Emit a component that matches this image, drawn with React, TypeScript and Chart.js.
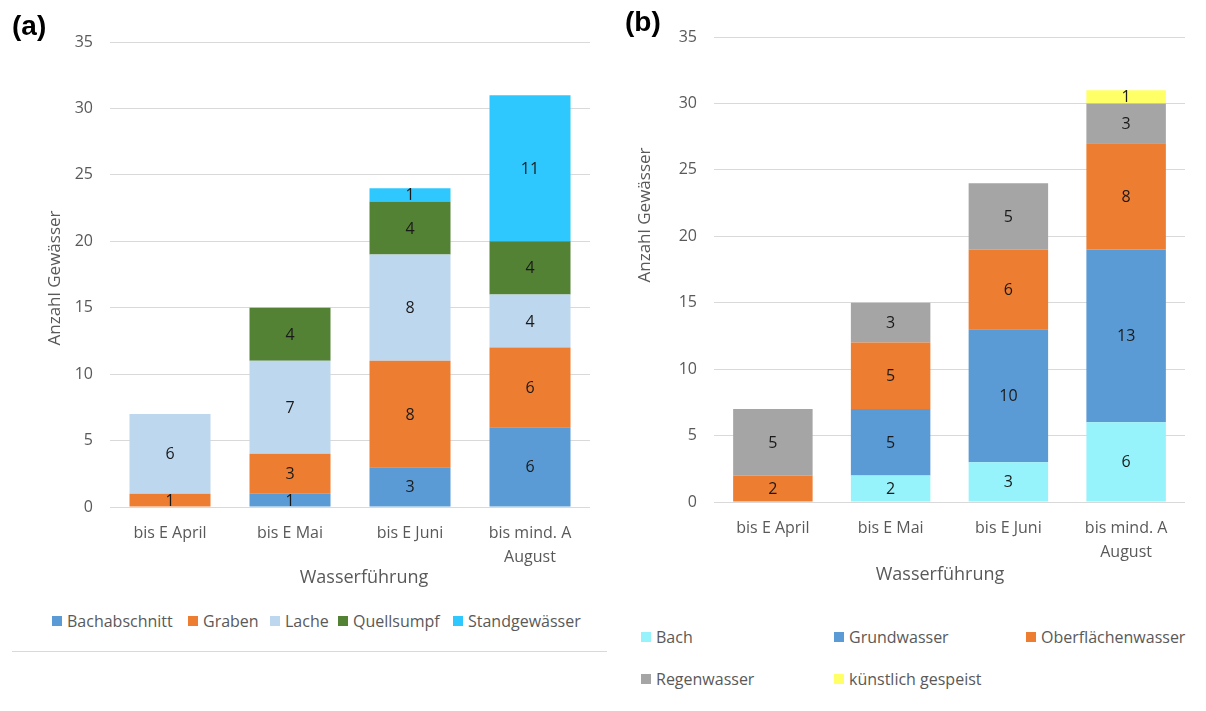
import React, { useEffect, useRef } from "react";
import { Chart, registerables } from "chart.js";

Chart.register(...registerables);

const FONT = "'Open Sans', 'DejaVu Sans', sans-serif";
const TEXT_GREY = "#595959";
const GRID_GREY = "#D9D9D9";

// Category labels (multi-line where the label wraps)
const categories: string[][] = [["bis E April"], ["bis E Mai"], ["bis E Juni"], ["bis mind. A", "August"]];

// y axis range and tick step
const yMax = 35;
const yStep = 5;

// (a) Gewässertyp
const bachabschnitt = [0, 1, 3, 6];
const graben = [1, 3, 8, 6];
const lache = [6, 7, 8, 4];
const quellsumpf = [0, 4, 4, 4];
const standgewaesser = [0, 0, 1, 11];

// (b) Herkunft des Wassers
const bach = [0, 2, 3, 6];
const grundwasser = [0, 5, 10, 13];
const oberflaechenwasser = [2, 5, 6, 8];
const regenwasser = [5, 3, 5, 3];
const kuenstlich = [0, 0, 0, 1];

const seriesA = [
  { label: "Bachabschnitt", data: bachabschnitt, color: "#5B9BD5" },
  { label: "Graben", data: graben, color: "#ED7D31" },
  { label: "Lache", data: lache, color: "#BDD7EE" },
  { label: "Quellsumpf", data: quellsumpf, color: "#548235" },
  { label: "Standgewässer", data: standgewaesser, color: "#2EC8FF" },
];

const seriesB = [
  { label: "Bach", data: bach, color: "#97F3FB" },
  { label: "Grundwasser", data: grundwasser, color: "#5B9BD5" },
  { label: "Oberflächenwasser", data: oberflaechenwasser, color: "#ED7D31" },
  { label: "Regenwasser", data: regenwasser, color: "#A5A5A5" },
  { label: "künstlich gespeist", data: kuenstlich, color: "#FFFF66" },
];

// Writes each segment's value in the middle of the segment
const segmentLabels = {
  id: "segmentLabels",
  afterDatasetsDraw(chart: any) {
    const ctx = chart.ctx;
    ctx.save();
    ctx.font = `16px ${FONT}`;
    ctx.fillStyle = "#1A1A1A";
    ctx.textAlign = "center";
    ctx.textBaseline = "middle";
    chart.data.datasets.forEach((ds: any, i: number) => {
      const meta = chart.getDatasetMeta(i);
      meta.data.forEach((bar: any, j: number) => {
        const v = ds.data[j];
        if (!v) return;
        const p = bar.getProps(["x", "y", "base"], true);
        ctx.fillText(String(v), p.x, (p.y + p.base) / 2 + 1);
      });
    });
    ctx.restore();
  },
};

// Axis titles placed at fixed canvas positions
const axisTitles = {
  id: "axisTitles",
  afterDraw(chart: any, _args: any, opts: any) {
    const ctx = chart.ctx;
    ctx.save();
    ctx.fillStyle = TEXT_GREY;
    ctx.textAlign = "center";
    ctx.textBaseline = "middle";
    ctx.font = `18px ${FONT}`;
    ctx.fillText(opts.xText, opts.xPos[0], opts.xPos[1]);
    ctx.translate(opts.yPos[0], opts.yPos[1]);
    ctx.rotate(-Math.PI / 2);
    ctx.font = `17px ${FONT}`;
    ctx.fillText(opts.yText, 0, 0);
    ctx.restore();
  },
};

type Geo = {
  width: number;
  height: number;
  left: number;
  right: number;
  top: number;
  bottom: number;
  tickPad: number;
  xTitle: [number, number];
  yTitle: [number, number];
};

function StackedChart({ series, geo }: { series: typeof seriesA; geo: Geo }) {
  const ref = useRef<HTMLCanvasElement | null>(null);
  useEffect(() => {
    if (!ref.current) return;
    const chart = new Chart(ref.current, {
      type: "bar",
      data: {
        labels: categories as any,
        datasets: series.map((s) => ({
          label: s.label,
          data: s.data,
          backgroundColor: s.color,
          borderWidth: 0,
          barPercentage: 0.675,
          categoryPercentage: 1,
        })),
      },
      options: {
        responsive: false,
        animation: false,
        devicePixelRatio: 1,
        layout: {
          padding: { top: geo.top, right: geo.width - geo.right, left: 0, bottom: 0 },
        },
        plugins: {
          legend: { display: false },
          tooltip: { enabled: false },
          axisTitles: {
            xText: "Wasserführung",
            yText: "Anzahl Gewässer",
            xPos: geo.xTitle,
            yPos: geo.yTitle,
          },
        } as any,
        scales: {
          x: {
            stacked: true,
            grid: { display: false, drawTicks: false },
            border: { display: false },
            ticks: {
              color: TEXT_GREY,
              font: { family: FONT, size: 16, lineHeight: 1.5 },
              padding: geo.tickPad,
              maxRotation: 0,
              autoSkip: false,
            },
            afterFit(scale: any) {
              scale.height = geo.height - geo.bottom;
            },
          },
          y: {
            stacked: true,
            min: 0,
            max: yMax,
            grid: { color: GRID_GREY, lineWidth: 1, drawTicks: false },
            border: { display: false },
            ticks: {
              stepSize: yStep,
              color: TEXT_GREY,
              font: { family: FONT, size: 16 },
              padding: 17,
            },
            afterFit(scale: any) {
              scale.width = geo.left;
            },
          },
        },
      },
      plugins: [segmentLabels, axisTitles],
    });
    return () => chart.destroy();
  }, []);
  return <canvas ref={ref} width={geo.width} height={geo.height} style={{ display: "block" }} />;
}

const geoA: Geo = {
  width: 605,
  height: 600,
  left: 110,
  right: 590,
  top: 42,
  bottom: 507,
  tickPad: 14,
  xTitle: [364, 578],
  yTitle: [55, 278],
};

const geoB: Geo = {
  width: 600,
  height: 600,
  left: 114,
  right: 585,
  top: 37,
  bottom: 502,
  tickPad: 14,
  xTitle: [340, 575],
  yTitle: [45, 215],
};

const legendA = [
  { x: 52, ...seriesA[0] },
  { x: 188, ...seriesA[1] },
  { x: 270, ...seriesA[2] },
  { x: 338, ...seriesA[3] },
  { x: 453, ...seriesA[4] },
];

const legendB = [
  { x: 641, y: 637, ...seriesB[0] },
  { x: 834, y: 637, ...seriesB[1] },
  { x: 1026, y: 637, ...seriesB[2] },
  { x: 641, y: 679, ...seriesB[3] },
  { x: 834, y: 679, ...seriesB[4] },
];

function LegendItem({ x, y, color, label }: { x: number; y: number; color: string; label: string }) {
  return (
    <div
      style={{
        position: "absolute",
        left: x,
        top: y - 12,
        height: 24,
        display: "flex",
        alignItems: "center",
        whiteSpace: "nowrap",
        fontFamily: FONT,
        fontSize: 16,
        color: TEXT_GREY,
      }}
    >
      <span style={{ display: "inline-block", width: 10, height: 10, background: color, marginRight: 5 }} />
      <span>{label}</span>
    </div>
  );
}

const panelLabel: React.CSSProperties = {
  position: "absolute",
  fontFamily: "'Liberation Sans', Arial, sans-serif",
  fontWeight: "bold",
  fontSize: 28,
  color: "#000",
  lineHeight: "32px",
};

export default function App() {
  return (
    <div
      style={{
        position: "fixed",
        left: 0,
        top: 0,
        width: 1206,
        height: 711,
        background: "#fff",
        overflow: "hidden",
      }}
    >
      <div style={{ position: "absolute", left: 0, top: 0 }}>
        <StackedChart series={seriesA} geo={geoA} />
      </div>
      <div style={{ position: "absolute", left: 600, top: 0 }}>
        <StackedChart series={seriesB} geo={geoB} />
      </div>
      <div style={{ ...panelLabel, left: 12, top: 10 }}>(a)</div>
      <div style={{ ...panelLabel, left: 625, top: 6 }}>(b)</div>
      {legendA.map((l) => (
        <LegendItem key={l.label} x={l.x} y={621} color={l.color} label={l.label} />
      ))}
      {legendB.map((l) => (
        <LegendItem key={l.label} x={l.x} y={l.y} color={l.color} label={l.label} />
      ))}
      <div style={{ position: "absolute", left: 12, top: 651, width: 595, height: 1, background: GRID_GREY }} />
    </div>
  );
}
